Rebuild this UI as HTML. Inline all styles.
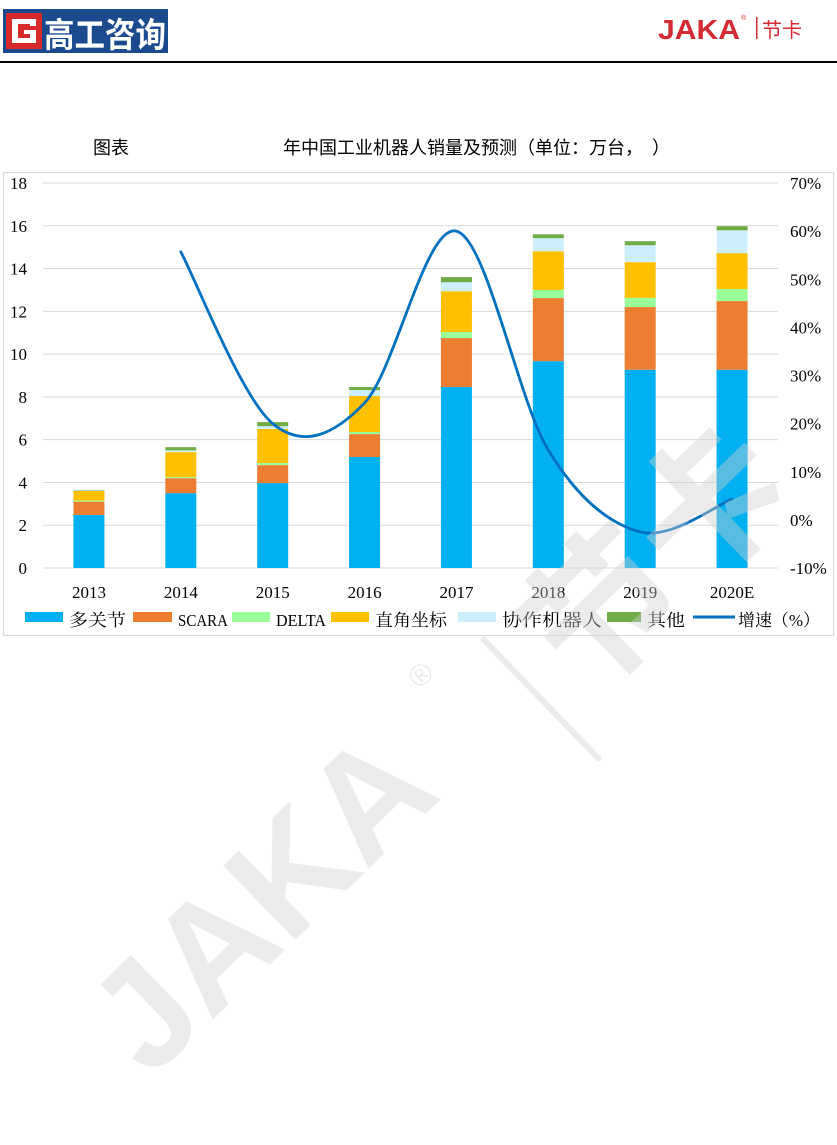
<!DOCTYPE html>
<html><head><meta charset="utf-8">
<style>
html,body{margin:0;padding:0;background:#fff;}
body{width:837px;height:1140px;overflow:hidden;position:relative;font-family:"Liberation Serif","Noto Serif CJK SC","Noto Sans CJK SC",serif;}
svg text{font-family:"Liberation Serif","Noto Serif CJK SC","Noto Sans CJK SC",serif;}
</style></head>
<body>
<svg id="page" width="837" height="1140" viewBox="0 0 837 1140">
  <g>
    <rect x="3" y="9" width="165" height="44" fill="#1b4a8f"/>
    <rect x="6" y="13" width="36" height="36" fill="#d8292a"/>
    <path d="M12 19h24v7h-6v-2h-12v14h12v-4h-6v-4h12v13h-24z" fill="#fff"/>
    <text x="44" y="47" font-size="34" fill="#fff" font-weight="bold" style="font-family:'Noto Sans CJK SC',sans-serif" textLength="122" lengthAdjust="spacingAndGlyphs">高工咨询</text>
  </g>
  <g>
    <text x="658" y="39" font-size="28" fill="#d42a32" font-weight="bold" style="font-family:'Liberation Sans',sans-serif" textLength="82" lengthAdjust="spacingAndGlyphs">JAKA</text>
    <text x="741" y="20" font-size="7" fill="#d42a32" style="font-family:'Liberation Sans',sans-serif">®</text>
    <rect x="756" y="17" width="1.5" height="22" fill="#d42a32"/>
    <text x="762" y="37" font-size="20" fill="#d42a32" style="font-family:'Noto Sans CJK SC',sans-serif">节卡</text>
  </g>
  <rect x="0" y="61" width="837" height="2" fill="#000"/>
  <text x="93" y="154" font-size="18" fill="#000" style="font-family:'Noto Sans CJK SC',sans-serif">图表</text>
  <text x="283" y="154" font-size="18" fill="#000" style="font-family:'Noto Sans CJK SC',sans-serif">年中国工业机器人销量及预测（单位：万台，&#12288;）</text>
  <rect x="3.5" y="172.5" width="830" height="463" fill="none" stroke="#d9d9d9"/>
  <g id="grid"></g>
  <g id="bars"></g>
  <g id="line"></g>
  <g id="axes"></g>
  <g id="legend"></g>
  <g opacity="0.42">
    <text x="0" y="0" font-size="150" fill="#cfcfcf" font-weight="bold" transform="translate(150,1080) rotate(-44)" style="font-family:'Liberation Sans',sans-serif">JAKA</text>
    <text x="0" y="0" font-size="30" fill="#cfcfcf" transform="translate(420,690) rotate(-44)" style="font-family:'Liberation Sans',sans-serif">®</text>
    <rect x="0" y="0" width="6" height="170" fill="#cfcfcf" transform="translate(480,640) rotate(-44)"/>
    <text x="0" y="0" font-size="150" fill="#cfcfcf" font-weight="bold" transform="translate(585,700) rotate(-44)" style="font-family:'Noto Sans CJK SC',sans-serif">节卡</text>
  </g>
</svg>
<script>
const categories = ['2013','2014','2015','2016','2017','2018','2019','2020E'];
const seriesNames = ['多关节','SCARA','DELTA','直角坐标','协作机器人','其他'];
const multiJoint = [2.48,3.50,3.97,5.19,8.46,9.67,9.27,9.27];
const scara = [0.62,0.70,0.84,1.07,2.29,2.95,2.93,3.21];
const delta = [0.05,0.05,0.10,0.10,0.28,0.38,0.43,0.56];
const cartesian = [0.45,1.17,1.59,1.68,1.91,1.81,1.67,1.68];
const cobot = [0.03,0.08,0.13,0.28,0.42,0.61,0.79,1.07];
const other = [0.02,0.15,0.19,0.14,0.24,0.18,0.19,0.19];
const growth = [null,55.7,20.0,24.3,60.0,14.5,-2.5,4.3];
const leftTicks = [0,2,4,6,8,10,12,14,16,18];
const rightTicks = ['-10%','0%','10%','20%','30%','40%','50%','60%','70%'];
const rightTickValues = [-10,0,10,20,30,40,50,60,70];

const colors = ['#00b0f0','#ed7d31','#99ff99','#ffc000','#cdeefd','#70ad47'];
const NS='http://www.w3.org/2000/svg';
const plotL=43, plotR=778, plotT=183, plotB=568;
const yL=v=>plotB-(v/18)*(plotB-plotT);
const yR=v=>plotB-((v+10)/80)*(plotB-plotT);
const band=(plotR-plotL)/categories.length;
const xC=i=>plotL+band*(i+0.5);
const barW=31;
function mk(tag,attrs,parent){const e=document.createElementNS(NS,tag);for(const k in attrs)e.setAttribute(k,attrs[k]);parent.appendChild(e);return e;}
const grid=document.getElementById('grid'),bars=document.getElementById('bars'),line=document.getElementById('line'),axes=document.getElementById('axes'),legend=document.getElementById('legend');
leftTicks.forEach(t=>{
  const g=mk('line',{x1:plotL,x2:plotR,y1:yL(t),y2:yL(t),stroke:'#d9d9d9','stroke-width':1},grid);
  
  
  const tx=mk('text',{x:27,y:yL(t)+6,'font-size':17,'text-anchor':'end',fill:'#000'},axes);
  tx.textContent=t;
  
  
});
rightTicks.forEach((lab,i)=>{
  const tx=mk('text',{x:790,y:yR(rightTickValues[i])+6,'font-size':17,fill:'#000'},axes);
  tx.textContent=lab;
  
  
});
const series=[multiJoint,scara,delta,cartesian,cobot,other];
categories.forEach((c,i)=>{
  let cum=0;
  series.forEach((s,k)=>{
    const y0=yL(cum), y1=yL(cum+s[i]); cum+=s[i];
    const r=mk('rect',{x:xC(i)-barW/2,y:y1,width:barW,height:Math.max(0,y0-y1),fill:colors[k]},bars);
    
    
  });
  const tx=mk('text',{x:xC(i),y:598,'font-size':17,'text-anchor':'middle',fill:'#000'},axes);
  tx.textContent=c;
  
  
});
const pts=[];growth.forEach((g,i)=>{if(g!==null)pts.push([xC(i),yR(g)]);});
let d='M'+pts[0][0]+','+pts[0][1];
for(let i=0;i<pts.length-1;i++){
  const p0=pts[i-1]||pts[i],p1=pts[i],p2=pts[i+1],p3=pts[i+2]||p2;
  const t=1/6;
  d+=' C'+(p1[0]+(p2[0]-p0[0])*t)+','+(p1[1]+(p2[1]-p0[1])*t)+' '+(p2[0]-(p3[0]-p1[0])*t)+','+(p2[1]-(p3[1]-p1[1])*t)+' '+p2[0]+','+p2[1];
}
const path=mk('path',{d:d,fill:'none',stroke:'#0070c0','stroke-width':2.8,'stroke-linecap':'round'},line);


const legX=[25,133,232,331,458,607];
const legW=[38,39,38,38,38,34];
const legTW=[57,50,50,72,100,38];
seriesNames.forEach((n,k)=>{
  const r=mk('rect',{x:legX[k],y:612,width:legW[k],height:10,fill:colors[k]},legend);
  
  
  const tx=mk('text',{x:legX[k]+legW[k]+6,y:626,'font-size':17,fill:'#000',textLength:legTW[k],lengthAdjust:'spacingAndGlyphs'},legend);
  tx.textContent=n;
  
  
});
const ll=mk('line',{x1:693,x2:735,y1:617,y2:617,stroke:'#0070c0','stroke-width':3},legend);


const lt=mk('text',{x:738,y:626,'font-size':17,fill:'#000',textLength:82,lengthAdjust:'spacingAndGlyphs'},legend);
lt.textContent='增速（%）';


</script>
</body></html>
